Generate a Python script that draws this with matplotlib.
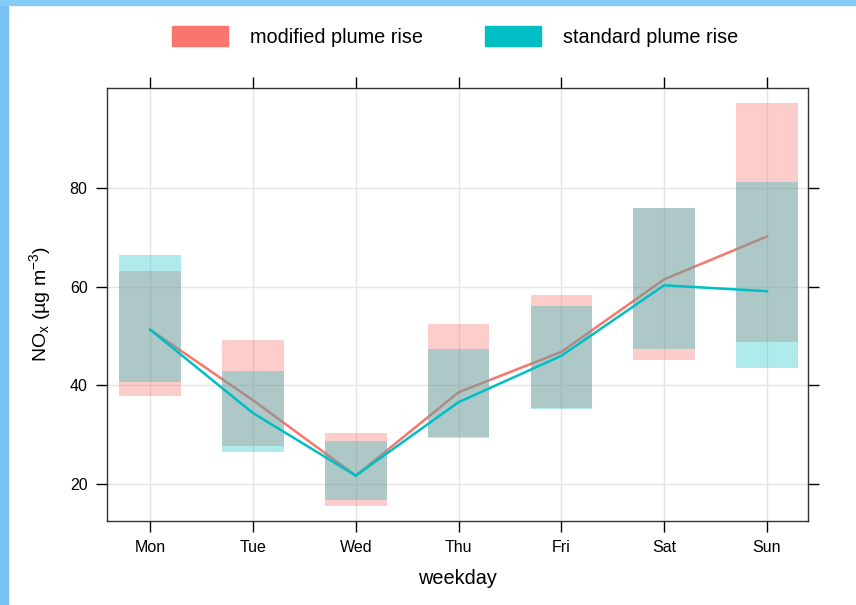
import numpy as np
import matplotlib
matplotlib.use("Agg")
import matplotlib.pyplot as plt
from matplotlib.patches import Patch, Rectangle

plt.rcParams["font.family"] = ["Liberation Sans", "DejaVu Sans"]
plt.rcParams["mathtext.default"] = "regular"

# weekly NOx: ranges (boxes) and means (lines) for the two plume rise schemes
days = ["Mon", "Tue", "Wed", "Thu", "Fri", "Sat", "Sun"]
mod_lo = [37.9, 27.8, 15.5, 29.4, 35.4, 45.1, 48.9]
mod_hi = [63.2, 49.3, 30.3, 52.4, 58.3, 75.9, 97.2]
std_lo = [40.7, 26.4, 16.8, 29.5, 35.2, 47.3, 43.5]
std_hi = [66.4, 43.0, 28.7, 47.4, 56.1, 75.9, 81.2]
mod_mean = [51.3, 37.0, 21.7, 38.6, 46.8, 61.5, 70.2]
std_mean = [51.3, 34.4, 21.7, 36.6, 46.0, 60.3, 59.1]

red = "#F8766D"
cyan = "#00BFC4"

fig = plt.figure(figsize=(8.56, 6.05), dpi=100)

# light blue window frame along the left and top edges
fig.patches.append(Rectangle((0, 0), 8 / 856, 1, transform=fig.transFigure,
                             color="#78C2F1", zorder=0))
fig.patches.append(Rectangle((0, 1 - 5 / 605), 1, 5 / 605, transform=fig.transFigure,
                             color="#84CCF5", zorder=0))

ax = fig.add_axes([0.125, 0.1388, 0.819, 0.7157])
x = np.arange(1, len(days) + 1)

for xi in x:
    ax.axvline(xi, color="#E4E4E4", lw=1, zorder=0)
for yi in [20, 40, 60, 80]:
    ax.axhline(yi, color="#E4E4E4", lw=1, zorder=0)

ax.plot(x, mod_mean, color=red, lw=1.8, zorder=2)
ax.bar(x, np.array(mod_hi) - np.array(mod_lo), bottom=mod_lo, width=0.6,
       color=red, alpha=0.36, lw=0, zorder=3)
ax.bar(x, np.array(std_hi) - np.array(std_lo), bottom=std_lo, width=0.6,
       color=cyan, alpha=0.31, lw=0, zorder=3)
ax.plot(x, std_mean, color=cyan, lw=1.8, zorder=4)

ax.set_xlim(0.58, 7.4)
ax.set_ylim(12.5, 100.3)
ax.set_xticks(x)
ax.set_xticklabels(days)
ax.set_yticks([20, 40, 60, 80])
ax.tick_params(direction="out", length=8, width=1, labelsize=11.5, pad=6,
               top=True, right=True, labeltop=False, labelright=False)
for s in ax.spines.values():
    s.set_linewidth(1)
    s.set_color("#333333")

ax.set_xlabel("weekday", fontsize=14.3, labelpad=10)
ax.set_ylabel("NO$_x$ (µg m$^{-3}$)", fontsize=14, labelpad=12)

handles = [Patch(color=red, label="modified plume rise"),
           Patch(color=cyan, label="standard plume rise")]
fig.legend(handles=handles, loc="center", bbox_to_anchor=(0.5315, 0.94), ncol=2,
           frameon=False, fontsize=14.3, handlelength=2.8, handleheight=1.16,
           handletextpad=1.1, columnspacing=3.15)

fig.savefig("out.png", dpi=100)
